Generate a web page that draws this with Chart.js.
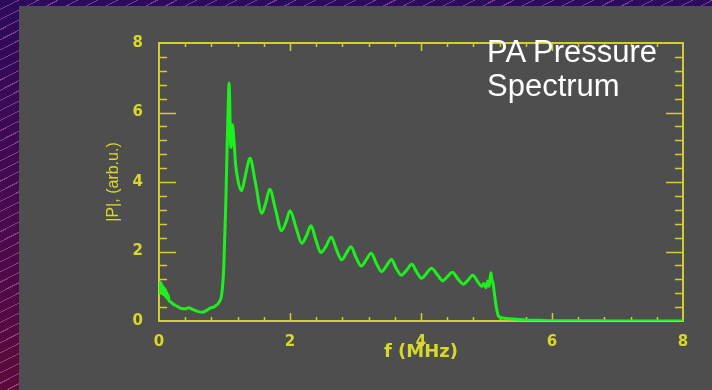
<!DOCTYPE html>
<html>
<head>
<meta charset="utf-8">
<script src="https://cdn.jsdelivr.net/npm/chart.js@4/dist/chart.umd.min.js"></script>
<style>
  html, body { margin: 0; padding: 0; }
  body {
    width: 712px; height: 390px; overflow: hidden; position: relative;
    background:
      repeating-linear-gradient(153deg, rgba(0,0,0,0) 0px, rgba(0,0,0,0) 8px, rgba(210,130,210,0.45) 8px, rgba(210,130,210,0.45) 9px),
      linear-gradient(180deg, #2c0a5c 0%, #4a0a4c 60%, #5c0a3a 100%);
  }
  #panel { position: absolute; left: 19px; top: 6px; right: 0; bottom: 0; background: #4e4e4e; }
  #wrap { position: absolute; left: 0; top: 0; width: 712px; height: 390px; }
  #label {
    position: absolute; left: 487px; top: 35px;
    font-family: "Liberation Sans", Arial, sans-serif; font-size: 31px; line-height: 34px;
    color: #ffffff; white-space: nowrap;
  }
</style>
</head>
<body>
<div id="panel"></div>
<div id="wrap"><canvas id="spectrum"></canvas></div>
<div id="label">PA Pressure<br>Spectrum</div>
<script>
// spectrum: frequency (MHz) and |P| (arb.u.)
const freq = [
  0, 0.01, 0.02, 0.03, 0.04, 0.05, 0.06, 0.07, 0.08, 0.09,
  0.1, 0.11, 0.12, 0.13, 0.14, 0.15, 0.17, 0.22, 0.28, 0.34,
  0.4, 0.45, 0.52, 0.6, 0.66, 0.72, 0.78, 0.85, 0.92, 0.96,
  0.99, 1.02, 1.04, 1.06, 1.07, 1.08, 1.09, 1.1, 1.12, 1.14,
  1.17, 1.21, 1.26, 1.32, 1.39, 1.47, 1.57, 1.63, 1.69, 1.78,
  1.87, 1.94, 2.0, 2.09, 2.18, 2.25, 2.32, 2.4, 2.47, 2.55,
  2.63, 2.71, 2.79, 2.86, 2.93, 3.01, 3.09, 3.16, 3.24, 3.32,
  3.4, 3.47, 3.55, 3.62, 3.7, 3.78, 3.86, 3.93, 4.01, 4.08,
  4.16, 4.25, 4.33, 4.4, 4.48, 4.56, 4.65, 4.72, 4.79, 4.87,
  4.93, 4.96, 4.99, 5.02, 5.04, 5.06, 5.07, 5.08, 5.1, 5.12,
  5.14, 5.16, 5.18, 5.22, 5.3, 5.45, 5.6, 5.8, 6.0, 6.5,
  7.0, 7.5, 8.0
];
const amp = [
  1.05, 0.8, 1.12, 0.85, 1.08, 0.78, 1.0, 0.76, 0.95, 0.72,
  0.9, 0.68, 0.82, 0.64, 0.74, 0.6, 0.56, 0.48, 0.42, 0.36,
  0.35, 0.38, 0.33, 0.27, 0.25, 0.3, 0.37, 0.42, 0.55, 0.8,
  1.6, 3.4, 5.0, 6.4, 6.85, 6.3, 5.2, 5.0, 5.65, 5.3,
  4.5, 4.0, 3.75, 4.2, 4.68, 4.0, 3.1, 3.4, 3.79, 3.2,
  2.6, 2.85, 3.17, 2.7, 2.24, 2.45, 2.74, 2.3, 1.97, 2.15,
  2.41, 2.05, 1.76, 1.95, 2.14, 1.82, 1.58, 1.75, 1.95, 1.65,
  1.42, 1.58, 1.77, 1.52, 1.32, 1.46, 1.63, 1.42, 1.23, 1.36,
  1.52, 1.33, 1.16, 1.27, 1.4, 1.22, 1.06, 1.18, 1.32, 1.12,
  0.99, 1.08, 0.96, 1.15, 1.0, 1.3, 1.39, 1.2, 1.08, 0.8,
  0.51, 0.3, 0.15, 0.1, 0.07, 0.05, 0.03, 0.02, 0.01, 0.01,
  0.0, 0.0, 0.0
];
const xTicks = [0, 2, 4, 6, 8];
const yTicks = [0, 2, 4, 6, 8];
const MINOR_STEP = 0.4;

const YELLOW = "#d8d82c";
const AXIS = "#cfcf34";
const GREEN = "#1ef01e";

// IDL style box: axis lines on all sides, ticks pointing inward
const frameBox = {
  id: "frameBox",
  beforeDatasetsDraw(chart) {
    const { ctx, chartArea: a, scales: { x, y } } = chart;
    ctx.save();
    ctx.strokeStyle = AXIS;
    ctx.lineWidth = 2;
    ctx.strokeRect(a.left, a.top, a.right - a.left, a.bottom - a.top);
    ctx.lineWidth = 1.5;
    ctx.beginPath();
    const xMax = xTicks[xTicks.length - 1], yMax = yTicks[yTicks.length - 1];
    for (let i = 1; i * MINOR_STEP < xMax - 0.01; i++) {
      const v = i * MINOR_STEP;
      const major = xTicks.some(t => Math.abs(t - v) < 0.01);
      const len = major ? 8 : 4;
      const px = Math.round(x.getPixelForValue(v)) + 0.5;
      ctx.moveTo(px, a.bottom); ctx.lineTo(px, a.bottom - len);
      ctx.moveTo(px, a.top); ctx.lineTo(px, a.top + len);
    }
    for (let i = 1; i * MINOR_STEP < yMax - 0.01; i++) {
      const v = i * MINOR_STEP;
      const major = yTicks.some(t => Math.abs(t - v) < 0.01);
      const len = major ? 17 : 8;
      const py = Math.round(y.getPixelForValue(v)) + 0.5;
      ctx.moveTo(a.left, py); ctx.lineTo(a.left + len, py);
      ctx.moveTo(a.right, py); ctx.lineTo(a.right - len, py);
    }
    ctx.stroke();
    ctx.restore();
  }
};

new Chart(document.getElementById("spectrum"), {
  type: "line",
  data: {
    datasets: [{
      data: freq.map((f, i) => ({ x: f, y: amp[i] })),
      borderColor: GREEN,
      borderWidth: 3,
      pointRadius: 0,
      cubicInterpolationMode: "monotone",
      fill: false
    }]
  },
  options: {
    responsive: true,
    maintainAspectRatio: false,
    animation: false,
    layout: { padding: { left: 0, top: 43, right: 29, bottom: 0 } },
    plugins: { legend: { display: false }, tooltip: { enabled: false } },
    scales: {
      x: {
        type: "linear", min: 0, max: 8,
        afterBuildTicks: s => { s.ticks = xTicks.map(v => ({ value: v })); },
        afterFit: s => { s.height = 69; },
        grid: { display: false },
        border: { display: false },
        ticks: { color: YELLOW, padding: 4, autoSkip: false, maxRotation: 0,
                 font: { family: "DejaVu Sans", weight: "bold", size: 15 } },
        title: { display: true, text: "f (MHz)", color: YELLOW,
                 padding: { top: 0, bottom: 27 },
                 font: { family: "DejaVu Sans", weight: "bold", size: 18 } }
      },
      y: {
        type: "linear", min: 0, max: 8,
        afterBuildTicks: s => { s.ticks = yTicks.map(v => ({ value: v })); },
        afterFit: s => { s.width = 159; },
        grid: { display: false },
        border: { display: false },
        ticks: { color: YELLOW, padding: 8,
                 font: { family: "DejaVu Sans", weight: "bold", size: 15 } },
        title: { display: true, text: "|P|, (arb.u.)", color: YELLOW,
                 padding: { top: 104, bottom: 0 },
                 font: { family: "Liberation Sans", weight: "normal", size: 16 } }
      }
    }
  },
  plugins: [frameBox]
});
</script>
</body>
</html>
